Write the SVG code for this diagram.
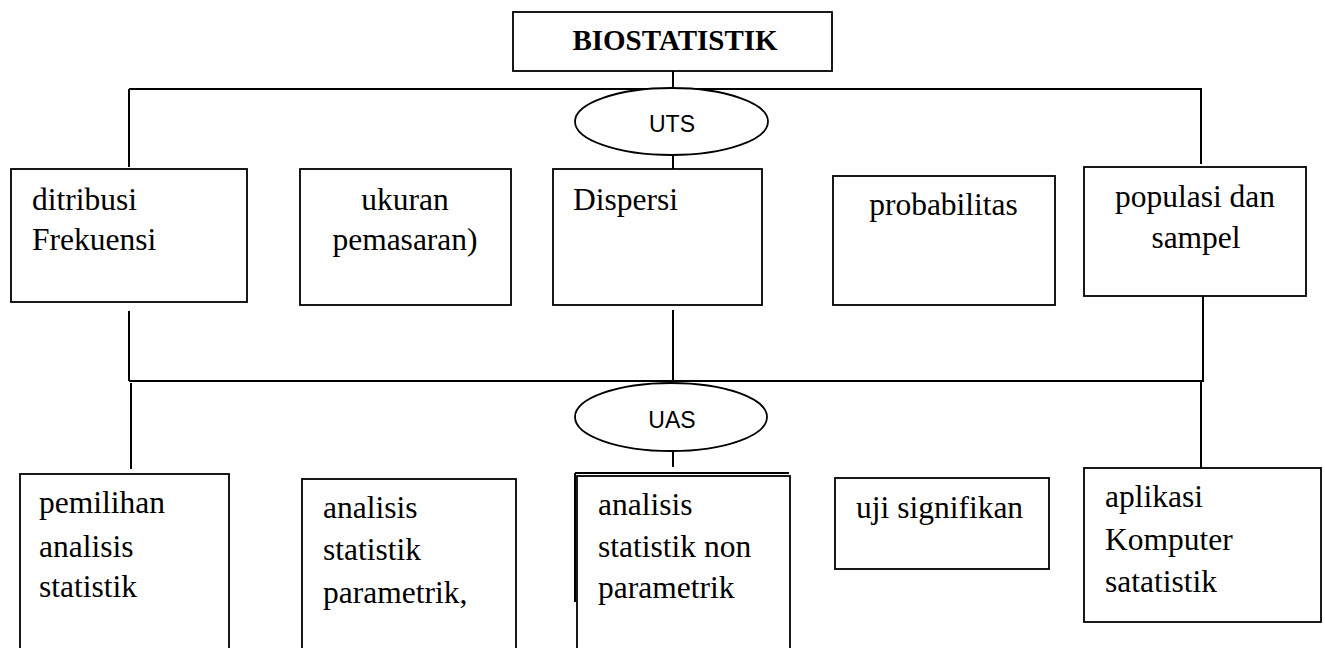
<svg xmlns="http://www.w3.org/2000/svg" width="1325" height="648" viewBox="0 0 1325 648">
<style>
.box{fill:#fff;stroke:#000;stroke-width:1.8}
.ell{fill:#fff;stroke:#000;stroke-width:1.8}
.ln{stroke:#000;stroke-width:2;fill:none}
.t{font-family:"Liberation Serif","Times New Roman",serif;font-size:31.5px;fill:#000}
.tc{text-anchor:middle}
.s{font-family:"Liberation Sans",Arial,sans-serif;font-size:23px;fill:#000;text-anchor:middle}
.title{font-family:"Liberation Serif","Times New Roman",serif;font-size:29px;font-weight:bold;fill:#000;text-anchor:middle}
</style>
<rect width="1325" height="648" fill="#fff"/>
<g id="connectors">
<line class="ln" x1="673" y1="71" x2="673" y2="89"/>
<line class="ln" x1="129" y1="89" x2="1202" y2="89"/>
<line class="ln" x1="129" y1="89" x2="129" y2="167"/>
<line class="ln" x1="1201" y1="89" x2="1201" y2="164"/>
<line class="ln" x1="673" y1="155" x2="673" y2="169"/>
<line class="ln" x1="129" y1="311" x2="129" y2="381"/>
<line class="ln" x1="673" y1="310" x2="673" y2="381"/>
<line class="ln" x1="1203" y1="296" x2="1203" y2="381"/>
<line class="ln" x1="129" y1="381" x2="1204" y2="381"/>
<line class="ln" x1="131" y1="383" x2="131" y2="469"/>
<line class="ln" x1="673" y1="451" x2="673" y2="467"/>
<line class="ln" x1="1201" y1="381" x2="1201" y2="468"/>
</g>
<g id="biostatistik">
<rect class="box" x="513" y="12" width="319" height="59"/>
<text class="title" x="675" y="50">BIOSTATISTIK</text>
</g>
<g id="uts">
<ellipse class="ell" cx="671.5" cy="121.5" rx="96.5" ry="33.5"/>
<text class="s" x="672" y="132">UTS</text>
</g>
<g id="ditribusi">
<rect class="box" x="11" y="169" width="236" height="133"/>
<text class="t" x="32" y="210">ditribusi</text>
<text class="t" x="32" y="250">Frekuensi</text>
</g>
<g id="ukuran">
<rect class="box" x="300" y="169" width="211" height="136"/>
<text class="t tc" x="405" y="210">ukuran</text>
<text class="t tc" x="405" y="250">pemasaran)</text>
</g>
<g id="dispersi">
<rect class="box" x="553" y="169" width="209" height="136"/>
<text class="t" x="573" y="210">Dispersi</text>
</g>
<g id="probabilitas">
<rect class="box" x="833" y="176" width="222" height="129"/>
<text class="t tc" x="943.5" y="215">probabilitas</text>
</g>
<g id="populasi">
<rect class="box" x="1084" y="167" width="222" height="129"/>
<text class="t tc" x="1195" y="207">populasi dan</text>
<text class="t tc" x="1196" y="248">sampel</text>
</g>
<g id="uas">
<ellipse class="ell" cx="671" cy="417" rx="96" ry="34"/>
<text class="s" x="672" y="428">UAS</text>
</g>
<g id="pemilihan">
<rect class="box" x="20" y="474" width="209" height="200"/>
<text class="t" x="39" y="513">pemilihan</text>
<text class="t" x="39" y="557">analisis</text>
<text class="t" x="39" y="597">statistik</text>
</g>
<g id="parametrik">
<rect class="box" x="302" y="479" width="214" height="200"/>
<text class="t" x="323" y="518">analisis</text>
<text class="t" x="323" y="560">statistik</text>
<text class="t" x="323" y="603">parametrik,</text>
</g>
<g id="nonparametrik">
<rect class="box" x="577" y="476" width="213" height="200"/>
<line class="ln" x1="575" y1="473" x2="789" y2="473"/>
<line class="ln" x1="575" y1="473" x2="575" y2="602"/>
<text class="t" x="598" y="515">analisis</text>
<text class="t" x="598" y="557">statistik non</text>
<text class="t" x="598" y="598">parametrik</text>
</g>
<g id="uji">
<rect class="box" x="835" y="478" width="214" height="91"/>
<text class="t" x="856" y="518">uji signifikan</text>
</g>
<g id="aplikasi">
<rect class="box" x="1084" y="468" width="237" height="154"/>
<text class="t" x="1105" y="507">aplikasi</text>
<text class="t" x="1105" y="550">Komputer</text>
<text class="t" x="1105" y="592">satatistik</text>
</g>
</svg>
